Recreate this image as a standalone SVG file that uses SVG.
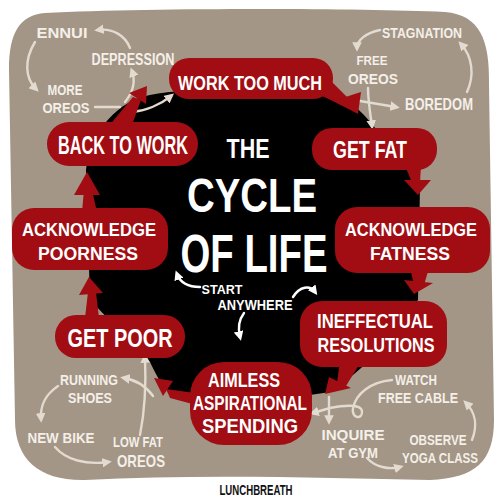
<svg xmlns="http://www.w3.org/2000/svg" width="500" height="500" viewBox="0 0 500 500">
<defs>
<style>
.red{fill:#a10d12}
.nt{font-family:"Liberation Sans",Arial,sans-serif;font-weight:700;fill:#fff;text-anchor:middle}
.tt{font-family:"Liberation Sans",Arial,sans-serif;font-weight:700;fill:#fff;text-anchor:middle}
.lt{font-family:"Liberation Sans",Arial,sans-serif;font-weight:700;fill:#f4efe8;text-anchor:middle}
.la{fill:none;stroke:#e3dbd0;stroke-width:2.4;stroke-linecap:round;marker-end:url(#ahl)}
.wa{fill:none;stroke:#fff;stroke-width:2.4;stroke-linecap:round;marker-end:url(#ahw)}
</style>
<marker id="ahl" viewBox="0 0 10 10" refX="6" refY="5" markerWidth="4" markerHeight="4" orient="auto"><path d="M0,0 L10,5 L0,10 z" fill="#e3dbd0"/></marker>
<marker id="ahw" viewBox="0 0 10 10" refX="6" refY="5" markerWidth="4" markerHeight="4" orient="auto"><path d="M0,0 L10,5 L0,10 z" fill="#fff"/></marker>
</defs>
<rect width="500" height="500" fill="#fff"/>
<path id="bg" d="M45,13 C150,8 350,8 445,12 C480,15 490,40 489,85 L494,420 C494,462 475,478 430,480 C330,478 200,474 85,480 C40,481 15,460 15,420 L9,70 C9,32 20,15 45,13 Z" fill="#a39686"/>
<path id="hole" d="M150,95 C200,85 320,88 345,100 C370,112 395,160 420,185 L418,300 C400,320 380,360 330,392 L290,398 C240,402 200,402 175,398 C160,385 155,372 150,362 L90,300 L86,170 C90,130 120,100 150,95 Z" fill="#000"/>

<g id="connectors">
<path class="la" d="M130,48 C125,35 112,28 98,30"/>
<path class="la" d="M35,42 C24,60 25,78 36,89"/>
<path class="la" d="M125,102 C133,92 136,82 132,71"/>
<path class="la" d="M95,107 L120,107" style="marker-end:none"/>
<path class="la" d="M132,112 C145,111 160,105 171,96"/>
<path class="la" d="M380,30 C366,33 357,40 357,48"/>
<path class="la" d="M467,92 C475,75 472,56 461,44"/>
<path class="la" d="M360,101 L396,107"/>
<path class="la" d="M368,88 C368,100 370,112 372,126"/>
<path class="la" d="M58,386 C45,395 40,405 41,419"/>
<path class="la" d="M55,447 C66,460 86,465 108,462"/>
<path class="la" d="M140,435 C145,410 146,380 145,357"/>
<path class="la" d="M153,396 C146,386 136,380 124,378"/>
<path class="la" d="M392,380 C370,382 356,394 353,408 C351,419 363,420 362,411 C361,404 345,405 330,408 L313,413"/>
<path class="la" d="M329,397 L329,421"/>
<path class="la" d="M367,458 C375,467 389,470 400,467"/>
<path class="la" d="M472,440 C478,425 475,412 466,403"/>
<path class="wa" d="M200,287 C188,287 180,282 177,274"/>
<path class="wa" d="M293,297 C300,286 310,285 315,292"/>
<path class="wa" d="M244,313 C238,321 238,329 240,337"/>
</g>

<g id="n-work-too-much">
<rect class="red" x="169" y="58" width="164" height="41" rx="20"/>
<polygon class="red" points="316,93 331,81 350,100 341,105"/>
<polygon class="red" points="333,101 361,92 358,114"/>
<text class="nt" x="250" y="90" font-size="21" textLength="144" lengthAdjust="spacingAndGlyphs">WORK TOO MUCH</text>
</g>
<g id="n-get-fat">
<rect class="red" x="312" y="128" width="125" height="42" rx="20"/>
<polygon class="red" points="405,165 421,165 420,183 412,183"/>
<polygon class="red" points="404,180 431,180 418,195"/>
<text class="nt" x="370" y="158" font-size="23" textLength="74" lengthAdjust="spacingAndGlyphs">GET FAT</text>
</g>
<g id="n-ack-fatness">
<rect class="red" x="335" y="207" width="155" height="66" rx="22"/>
<polygon class="red" points="410,268 429,268 424,285 414,285"/>
<polygon class="red" points="404,280 433,283 414,294"/>
<text class="nt" x="411" y="236" font-size="18" textLength="132" lengthAdjust="spacingAndGlyphs">ACKNOWLEDGE</text>
<text class="nt" x="410" y="260" font-size="18" textLength="80" lengthAdjust="spacingAndGlyphs">FATNESS</text>
</g>
<g id="n-ineffectual">
<rect class="red" x="300" y="301" width="147" height="66" rx="22"/>
<polygon class="red" points="340,360 362,360 346,386 337,383"/>
<polygon class="red" points="329,377 351,388 325,394"/>
<text class="nt" x="375" y="328" font-size="20.5" textLength="116" lengthAdjust="spacingAndGlyphs">INEFFECTUAL</text>
<text class="nt" x="376" y="352" font-size="20.5" textLength="117" lengthAdjust="spacingAndGlyphs">RESOLUTIONS</text>
</g>
<g id="n-aimless">
<rect class="red" x="190" y="362" width="122" height="83" rx="34"/>
<polygon class="red" points="195,393 200,406 170,398 166,389"/>
<polygon class="red" points="163,396 173,381 154,378"/>
<text class="nt" x="244" y="387" font-size="20" textLength="72" lengthAdjust="spacingAndGlyphs">AIMLESS</text>
<text class="nt" x="250" y="410" font-size="20" textLength="114" lengthAdjust="spacingAndGlyphs">ASPIRATIONAL</text>
<text class="nt" x="250" y="433" font-size="20" textLength="96" lengthAdjust="spacingAndGlyphs">SPENDING</text>
</g>
<g id="n-get-poor">
<rect class="red" x="55" y="315" width="130" height="43" rx="21"/>
<polygon class="red" points="85,318 99,318 96,292 88,292"/>
<polygon class="red" points="79,295 103,293 89,277"/>
<text class="nt" x="120" y="347" font-size="25" textLength="105" lengthAdjust="spacingAndGlyphs">GET POOR</text>
</g>
<g id="n-ack-poorness">
<rect class="red" x="12" y="208" width="156" height="62" rx="22"/>
<polygon class="red" points="82,212 97,212 92,190 84,190"/>
<polygon class="red" points="74,195 100,195 87,172"/>
<text class="nt" x="89" y="236" font-size="18" textLength="134" lengthAdjust="spacingAndGlyphs">ACKNOWLEDGE</text>
<text class="nt" x="88" y="260" font-size="18" textLength="100" lengthAdjust="spacingAndGlyphs">POORNESS</text>
</g>
<g id="n-back-to-work">
<rect class="red" x="47" y="122" width="151" height="44" rx="22"/>
<polygon class="red" points="108,127 132,125 141,100 133,97"/>
<polygon class="red" points="129,93 146,104 147,86"/>
<text class="nt" x="123" y="154" font-size="26" textLength="130" lengthAdjust="spacingAndGlyphs">BACK TO WORK</text>
</g>

<g id="title">
<text class="tt" x="248" y="158" font-size="27" textLength="43" lengthAdjust="spacingAndGlyphs">THE</text>
<text class="tt" x="252" y="212" font-size="49" textLength="130" lengthAdjust="spacingAndGlyphs">CYCLE</text>
<text class="tt" x="254" y="272" font-size="54" textLength="147" lengthAdjust="spacingAndGlyphs">OF LIFE</text>
<text class="nt" x="222" y="294" font-size="12.5" textLength="41" lengthAdjust="spacingAndGlyphs">START</text>
<text class="nt" x="255" y="310" font-size="14" textLength="75" lengthAdjust="spacingAndGlyphs">ANYWHERE</text>
</g>

<g id="labels">
<text class="lt" x="62" y="38" font-size="14" textLength="51" lengthAdjust="spacingAndGlyphs">ENNUI</text>
<text class="lt" x="133" y="65" font-size="16" textLength="83" lengthAdjust="spacingAndGlyphs">DEPRESSION</text>
<text class="lt" x="65" y="95" font-size="14" textLength="35" lengthAdjust="spacingAndGlyphs">MORE</text>
<text class="lt" x="66" y="113" font-size="15" textLength="47" lengthAdjust="spacingAndGlyphs">OREOS</text>
<text class="lt" x="422" y="38" font-size="15" textLength="80" lengthAdjust="spacingAndGlyphs">STAGNATION</text>
<text class="lt" x="372" y="65" font-size="12.5" textLength="31" lengthAdjust="spacingAndGlyphs">FREE</text>
<text class="lt" x="373" y="84" font-size="14" textLength="50" lengthAdjust="spacingAndGlyphs">OREOS</text>
<text class="lt" x="439" y="110" font-size="17" textLength="68" lengthAdjust="spacingAndGlyphs">BOREDOM</text>
<text class="lt" x="89" y="385" font-size="14" textLength="58" lengthAdjust="spacingAndGlyphs">RUNNING</text>
<text class="lt" x="90" y="403" font-size="14" textLength="44" lengthAdjust="spacingAndGlyphs">SHOES</text>
<text class="lt" x="61" y="443" font-size="15" textLength="67" lengthAdjust="spacingAndGlyphs">NEW BIKE</text>
<text class="lt" x="138" y="447" font-size="14" textLength="50" lengthAdjust="spacingAndGlyphs">LOW FAT</text>
<text class="lt" x="141" y="467" font-size="17" textLength="48" lengthAdjust="spacingAndGlyphs">OREOS</text>
<text class="lt" x="416" y="385" font-size="14" textLength="42" lengthAdjust="spacingAndGlyphs">WATCH</text>
<text class="lt" x="418" y="403" font-size="14" textLength="80" lengthAdjust="spacingAndGlyphs">FREE CABLE</text>
<text class="lt" x="353" y="440" font-size="14" textLength="63" lengthAdjust="spacingAndGlyphs">INQUIRE</text>
<text class="lt" x="353" y="458" font-size="14" textLength="50" lengthAdjust="spacingAndGlyphs">AT GYM</text>
<text class="lt" x="438" y="445" font-size="14" textLength="57" lengthAdjust="spacingAndGlyphs">OBSERVE</text>
<text class="lt" x="440" y="463" font-size="14" textLength="76" lengthAdjust="spacingAndGlyphs">YOGA CLASS</text>
<text x="256" y="495" font-family="Liberation Sans, Arial, sans-serif" font-weight="700" font-size="14" fill="#111" text-anchor="middle" textLength="73" lengthAdjust="spacingAndGlyphs">LUNCHBREATH</text>
</g>
</svg>
